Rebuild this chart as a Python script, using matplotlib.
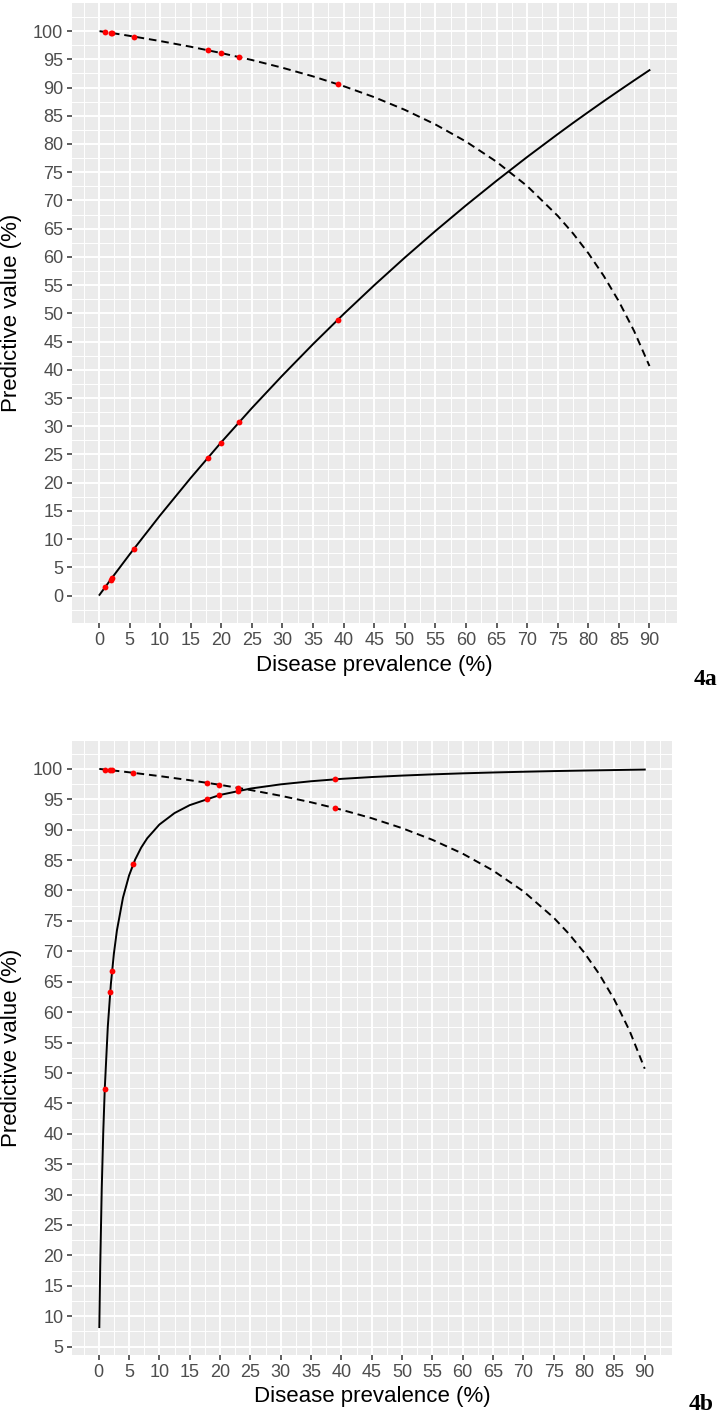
import matplotlib
matplotlib.use('Agg')
import matplotlib.pyplot as plt
import numpy as np

plt.rcParams['font.family'] = ['Liberation Sans', 'DejaVu Sans']
plt.rcParams['lines.scale_dashes'] = False

# prevalence grid (%) the curves were read at
prev_a = [0.1, 1, 2, 5, 10, 15, 20, 25, 30, 35, 40, 45, 50, 55, 60, 65, 70, 75,
          77.5, 80, 82.5, 85, 87.5, 90]
ppv_a = [0.15, 1.48, 2.96, 7.28, 14.22, 20.84, 27.17, 33.22, 39.0, 44.55, 49.87,
         54.97, 59.87, 64.58, 69.12, 73.48, 77.69, 81.74, 83.72, 85.65, 87.56,
         89.42, 91.26, 93.07]
npv_a = [99.98, 99.84, 99.67, 99.15, 98.23, 97.22, 96.1, 94.87, 93.5, 91.97, 90.24,
         88.29, 86.05, 83.46, 80.43, 76.85, 72.55, 67.27, 64.16, 60.66, 56.67,
         52.11, 46.84, 40.66]

prev_b_ppv = [0.1, 0.25, 0.5, 0.75, 1, 1.5, 2, 2.5, 3, 4, 5, 6, 7, 8, 10, 12.5, 15,
              20, 25, 30, 35, 40, 45, 50, 55, 60, 65, 70, 75, 80, 85, 90]
ppv_b = [8.21, 18.29, 30.97, 40.29, 47.42, 57.63, 64.57, 69.6, 73.42, 78.82, 82.46,
         85.07, 87.05, 88.59, 90.84, 92.73, 94.03, 95.71, 96.75, 97.45, 97.96, 98.35,
         98.65, 98.89, 99.09, 99.26, 99.4, 99.52, 99.63, 99.72, 99.8, 99.88]
prev_b_npv = [0.1, 1, 2, 5, 10, 15, 20, 25, 30, 35, 40, 45, 50, 55, 60, 65, 70, 75,
              77.5, 80, 82.5, 85, 87.5, 90]
npv_b = [99.99, 99.89, 99.78, 99.43, 98.81, 98.13, 97.37, 96.52, 95.57, 94.5, 93.28,
         91.88, 90.25, 88.33, 86.05, 83.28, 79.86, 75.52, 72.87, 69.82, 66.25,
         62.02, 56.93, 50.69]

# observed studies (red dots)
dot_prev = [1.0, 1.9, 2.2, 5.7, 17.8, 19.9, 22.9, 39.0]
dot_ppv_a = [1.5, 2.8, 3.2, 8.2, 24.4, 27.0, 30.7, 48.8]
dot_npv_a = [99.84, 99.69, 99.63, 99.03, 96.6, 96.1, 95.4, 90.6]
dot_ppv_b = [47.4, 63.3, 66.7, 84.3, 95.1, 95.7, 96.3, 98.3]
dot_npv_b = [99.89, 99.79, 99.76, 99.35, 97.7, 97.4, 96.9, 93.5]

x_ticks = list(range(0, 95, 5))
y_ticks_a = list(range(0, 105, 5))
y_ticks_b = list(range(5, 105, 5))


def style(ax, xlim, ylim, yticks):
    ax.set_facecolor('#EBEBEB')
    ax.set_xticks(x_ticks)
    ax.set_yticks(yticks)
    ax.set_xticks(np.arange(-2.5, 95, 5), minor=True)
    ax.set_yticks(np.arange(-2.5, 105, 5), minor=True)
    # limits after ticks, set_ticks would widen them
    ax.set_xlim(*xlim)
    ax.set_ylim(*ylim)
    ax.grid(which='major', color='white', linewidth=1.4)
    ax.grid(which='minor', color='white', linewidth=0.7)
    ax.set_axisbelow(True)
    for s in ax.spines.values():
        s.set_visible(False)
    ax.tick_params(which='major', length=3.8, width=1.1, color='#333333',
                   labelsize=13, labelcolor='#4D4D4D', pad=2.5)
    ax.tick_params(which='minor', length=0)
    ax.set_xlabel('Disease prevalence (%)', fontsize=16)
    ax.set_ylabel('Predictive value (%)', fontsize=16)


fig = plt.figure(figsize=(7.18, 14.21), dpi=100)

ax1 = fig.add_axes([0.1003, 0.5616, 0.8426, 0.4363])
style(ax1, (-4.4, 94.5), (-4.84, 104.97), y_ticks_a)
ax1.plot(prev_a, ppv_a, color='black', linewidth=1.4)
ax1.plot(prev_a, npv_a, color='black', linewidth=1.4, dashes=(5.5, 3.5))
ax1.plot(dot_prev, dot_ppv_a, 'o', color='red', markersize=4.2, markeredgewidth=0)
ax1.plot(dot_prev, dot_npv_a, 'o', color='red', markersize=4.2, markeredgewidth=0)
ax1.xaxis.set_label_coords(0.5, -0.052)
ax1.xaxis.label.set_va('top')
ax1.yaxis.set_label_coords(-0.083, 0.5)

ax2 = fig.add_axes([0.1003, 0.04645, 0.8357, 0.4321])
style(ax2, (-4.4, 94.5), (3.62, 104.58), y_ticks_b)
ax2.plot(prev_b_ppv, ppv_b, color='black', linewidth=1.4)
ax2.plot(prev_b_npv, npv_b, color='black', linewidth=1.4, dashes=(5.5, 3.5))
ax2.plot(dot_prev, dot_ppv_b, 'o', color='red', markersize=4.2, markeredgewidth=0)
ax2.plot(dot_prev, dot_npv_b, 'o', color='red', markersize=4.2, markeredgewidth=0)
ax2.xaxis.set_label_coords(0.5, -0.0505)
ax2.xaxis.label.set_va('top')
ax2.yaxis.set_label_coords(-0.083, 0.5)

fig.text(717 / 718, 1 - 685 / 1421, '4a', fontsize=17, fontweight='bold',
         family='Liberation Serif', ha='right', va='baseline')
fig.text(714 / 718, 1 - 1410 / 1421, '4b', fontsize=17, fontweight='bold',
         family='Liberation Serif', ha='right', va='baseline')

fig.savefig('out.png', dpi=100)
